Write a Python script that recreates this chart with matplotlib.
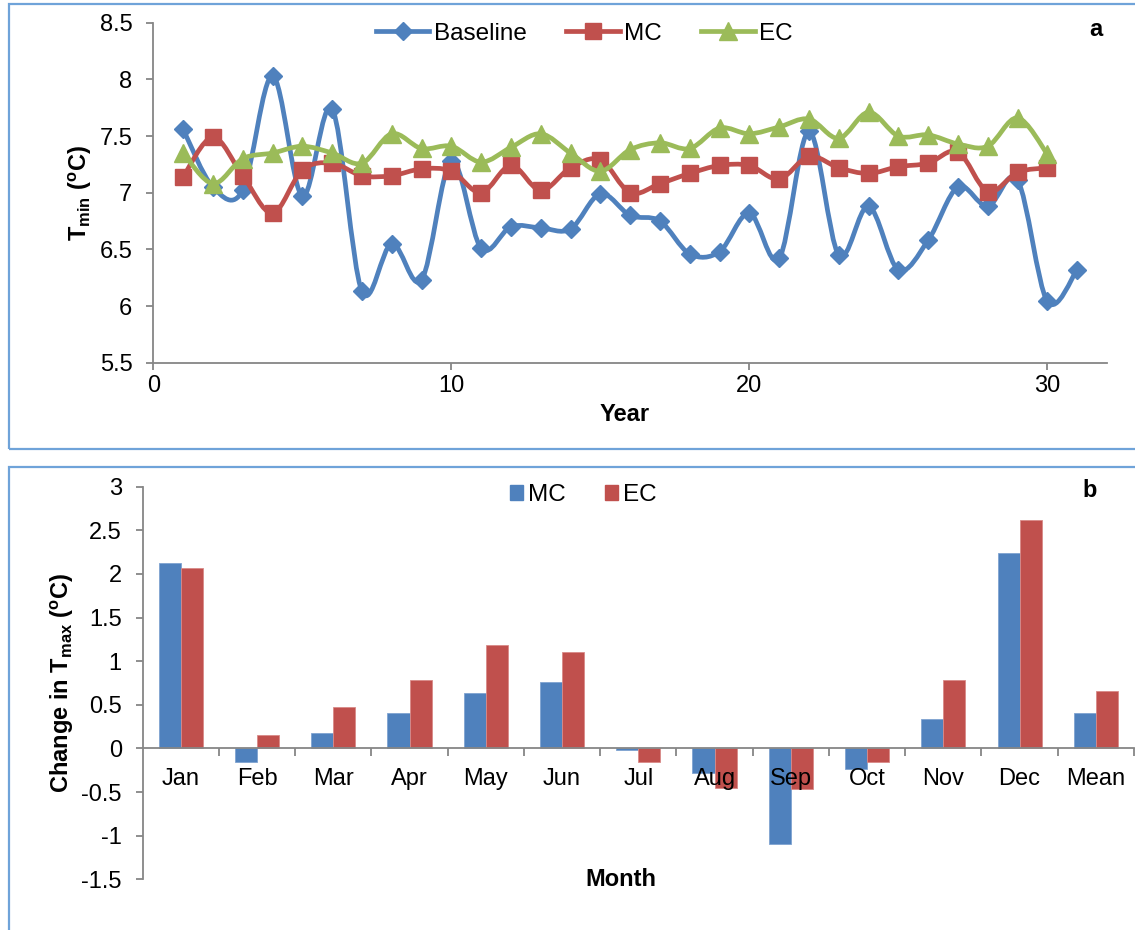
"""Two-panel figure: annual minimum temperature series (a) and monthly change in Tmax (b)."""
import numpy as np
import matplotlib.pyplot as plt
from matplotlib.path import Path
from matplotlib.patches import PathPatch, Rectangle, Patch
from matplotlib.lines import Line2D
from matplotlib.ticker import FuncFormatter

plt.rcParams["font.family"] = ["Liberation Sans", "DejaVu Sans"]
plt.rcParams["mathtext.fontset"] = "custom"
plt.rcParams["mathtext.rm"] = "Liberation Sans"
plt.rcParams["mathtext.bf"] = "Liberation Sans:bold"
plt.rcParams["mathtext.it"] = "Liberation Sans:italic"

# panel a: Tmin by year
years_base = list(range(1, 32))
tmin_baseline = [7.56, 7.05, 7.02, 8.03, 6.97, 7.74, 6.13, 6.55, 6.23, 7.28,
                 6.51, 6.70, 6.69, 6.68, 6.99, 6.80, 6.75, 6.46, 6.48, 6.82,
                 6.42, 7.54, 6.45, 6.88, 6.32, 6.58, 7.05, 6.88, 7.11, 6.04,
                 6.32]
years_proj = list(range(1, 31))
tmin_mc = [7.14, 7.49, 7.15, 6.82, 7.20, 7.26, 7.15, 7.15, 7.21, 7.19,
           7.00, 7.24, 7.02, 7.22, 7.29, 7.00, 7.08, 7.17, 7.24, 7.24,
           7.12, 7.32, 7.22, 7.17, 7.23, 7.26, 7.36, 7.01, 7.18, 7.22]
tmin_ec = [7.35, 7.08, 7.30, 7.35, 7.41, 7.35, 7.26, 7.52, 7.39, 7.41,
           7.27, 7.40, 7.52, 7.35, 7.19, 7.38, 7.44, 7.39, 7.57, 7.52,
           7.58, 7.65, 7.48, 7.71, 7.50, 7.51, 7.43, 7.41, 7.66, 7.34]

# panel b: change in Tmax by month
months = ["Jan", "Feb", "Mar", "Apr", "May", "Jun", "Jul", "Aug", "Sep",
          "Oct", "Nov", "Dec", "Mean"]
dtmax_mc = [2.12, -0.15, 0.18, 0.41, 0.63, 0.76, -0.02, -0.28, -1.09,
            -0.24, 0.34, 2.24, 0.41]
dtmax_ec = [2.07, 0.15, 0.47, 0.79, 1.18, 1.10, -0.15, -0.45, -0.47,
            -0.16, 0.78, 2.62, 0.66]

BLUE = "#4f81bd"
RED = "#c0504d"
GREEN = "#9bbb59"
AXIS_GREY = "#868686"
FRAME_BLUE = "#6fa3d9"

W, H = 1135, 930


def fx(px):
    return px / W


def fy(py):
    return 1 - py / H


def smooth_path(x, y):
    """Cubic Bezier path through the points (Catmull-Rom style tangents)."""
    pts = np.column_stack([x, y]).astype(float)
    n = len(pts)
    verts = [pts[0]]
    codes = [Path.MOVETO]
    for i in range(n - 1):
        p0 = pts[i - 1] if i > 0 else pts[i]
        p1, p2 = pts[i], pts[i + 1]
        p3 = pts[i + 2] if i + 2 < n else pts[i + 1]
        verts += [p1 + (p2 - p0) / 6, p2 - (p3 - p1) / 6, p2]
        codes += [Path.CURVE4] * 3
    return Path(verts, codes)


def plain_num(v, _pos):
    return f"{v:g}"


def style_axes(ax):
    for side in ("top", "right"):
        ax.spines[side].set_visible(False)
    for side in ("left", "bottom"):
        ax.spines[side].set_color(AXIS_GREY)
        ax.spines[side].set_linewidth(1.3)
    ax.tick_params(which="both", direction="out", color=AXIS_GREY, width=1.3,
                   length=5, labelsize=17, labelcolor="black")
    ax.tick_params(axis="y", pad=10)


fig = plt.figure(figsize=(W / 100, H / 100), dpi=100)

# panel frames
for y0, y1 in [(4, 449), (467, 960)]:
    fig.patches.append(Rectangle((fx(9), fy(y1)), fx(1200 - 9), fy(y0) - fy(y1),
                                 transform=fig.transFigure, fill=False,
                                 edgecolor=FRAME_BLUE, linewidth=1.6))

# ---- panel a ----
ax1 = fig.add_axes([fx(153.3), fy(362.7), fx(1107 - 153.3), fy(22.7) - fy(362.7)])
style_axes(ax1)
series = [(years_base, tmin_baseline, BLUE, "D", 9.5, "Baseline"),
          (years_proj, tmin_mc, RED, "s", 11.5, "MC"),
          (years_proj, tmin_ec, GREEN, "^", 12.5, "EC")]
handles = []
for k, (xs, ys, col, mk, ms, lab) in enumerate(series):
    ax1.add_patch(PathPatch(smooth_path(xs, ys), fill=False, edgecolor=col,
                            linewidth=3.4, capstyle="round", joinstyle="round",
                            zorder=2 + 2 * k))
    ax1.plot(xs, ys, linestyle="none", marker=mk, markersize=ms, color=col,
             markeredgecolor=col, zorder=3 + 2 * k)
    handles.append(Line2D([], [], color=col, linewidth=3.4, marker=mk,
                          markersize=ms, markeredgecolor=col, label=lab))
ax1.set_xlim(0, 32)
ax1.set_ylim(5.5, 8.5)
ax1.set_xticks([0, 10, 20, 30])
ax1.set_yticks(np.arange(5.5, 8.51, 0.5))
ax1.yaxis.set_major_formatter(FuncFormatter(plain_num))
ax1.set_ylabel(r"$\mathbf{T_{min}}$ ($^{\mathbf{o}}$C)", fontsize=17,
               fontweight="bold", labelpad=4)
ax1.legend(handles=handles, loc="center left", ncol=3, frameon=False,
           bbox_to_anchor=(fx(376), fy(34)), bbox_transform=fig.transFigure,
           fontsize=17.5, handlelength=2.2, handletextpad=0.2, columnspacing=1.6,
           borderpad=0, borderaxespad=0)
fig.text(fx(625), fy(414), "Year", fontsize=17, fontweight="bold",
         ha="center", va="center")
fig.text(fx(1096), fy(29), "a", fontsize=17, fontweight="bold",
         ha="center", va="center")

# ---- panel b ----
ax2 = fig.add_axes([fx(142.7), fy(879.3), fx(1134 - 142.7), fy(486.7) - fy(879.3)])
style_axes(ax2)
xpos = np.arange(len(months))
bw = 0.29
ax2.bar(xpos - bw / 2, dtmax_mc, width=bw, color=BLUE, edgecolor="#7fa3d1",
        linewidth=0.6, label="MC", zorder=2)
ax2.bar(xpos + bw / 2, dtmax_ec, width=bw, color=RED, edgecolor="#d98a88",
        linewidth=0.6, label="EC", zorder=2)
ax2.set_xlim(-0.5, len(months) - 0.5)
ax2.set_ylim(-1.5, 3)
ax2.set_yticks(np.arange(-1.5, 3.01, 0.5))
ax2.yaxis.set_major_formatter(FuncFormatter(plain_num))
ax2.spines["bottom"].set_position(("data", 0))
ax2.spines["bottom"].set_zorder(3)
ax2.xaxis.set_zorder(5)
ax2.set_xticks(xpos)
ax2.set_xticklabels(months)
ax2.set_xticks(np.arange(0.5, len(months), 1.0), minor=True)
ax2.tick_params(axis="x", which="major", length=0, pad=14)
ax2.tick_params(axis="x", which="minor", length=6)
ax2.set_ylabel(r"Change in $\mathbf{T_{max}}$ ($^{\mathbf{o}}$C)", fontsize=17,
               fontweight="bold", labelpad=4)
bar_handles = [Patch(color=BLUE, label="MC"), Patch(color=RED, label="EC")]
ax2.legend(handles=bar_handles, loc="center left", ncol=2, frameon=False,
           bbox_to_anchor=(fx(510), fy(495)), bbox_transform=fig.transFigure,
           fontsize=17.5, handlelength=0.55, handleheight=0.55, handletextpad=0.2,
           columnspacing=1.6, borderpad=0, borderaxespad=0)
fig.text(fx(621), fy(879), "Month", fontsize=17, fontweight="bold",
         ha="center", va="center")
fig.text(fx(1090), fy(490), "b", fontsize=17, fontweight="bold",
         ha="center", va="center")

fig.savefig("out.png", dpi=100)
